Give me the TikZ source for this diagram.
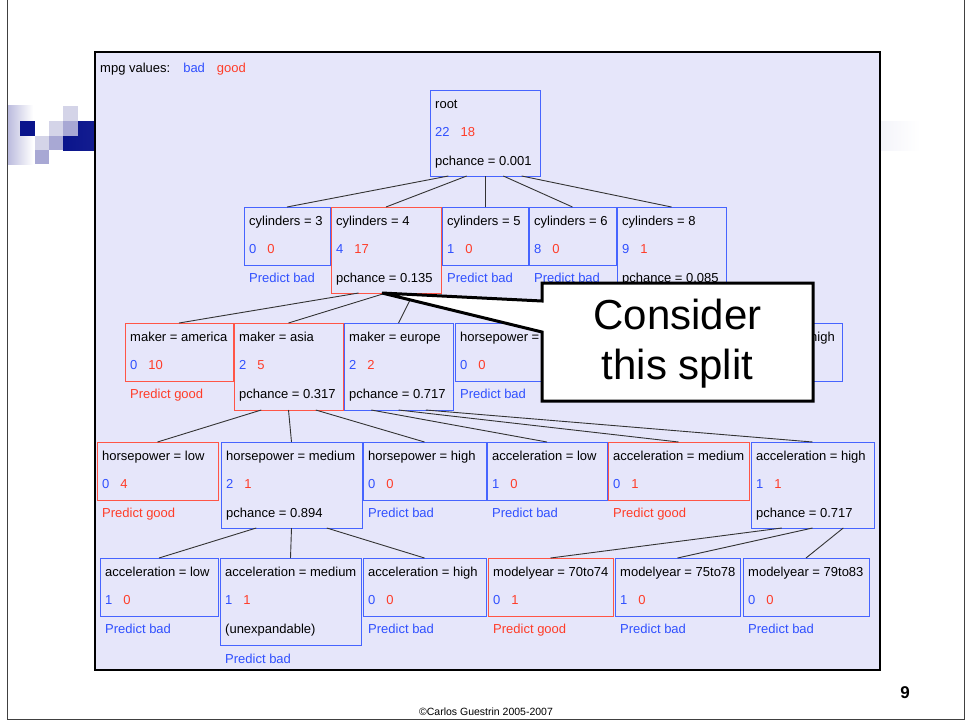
\documentclass[tikz,border=0pt]{standalone}
\usepackage{fontspec}
\setmainfont{Liberation Sans}
\usetikzlibrary{calc}
\definecolor{tblue}{RGB}{48,80,255}
\definecolor{tred}{RGB}{255,60,40}
\definecolor{bblue}{RGB}{70,100,255}
\definecolor{bred}{RGB}{255,85,70}
\definecolor{panelbg}{RGB}{230,230,250}
\definecolor{navy}{RGB}{10,20,140}
\definecolor{sqlight}{RGB}{212,212,232}
\definecolor{sqmed}{RGB}{168,168,212}
\newcommand{\fsz}{\fontsize{13}{15}\selectfont}
% name, x1, y1, x2, y2, border colour, title, n1, n2
\newcommand{\treenode}[9]{%
  \node[tbox, draw=#6, minimum width={#4-#2}, minimum height={#5-#3}] (#1) at (#2,#3) {};
  \node[txt] (#1-title) at ($(#1.north west)+(5,18)$) {#7};
  \node[txt] (#1-count) at ($(#1.north west)+(5,46)$) {\textcolor{tblue}{#8}\hspace{11pt}\textcolor{tred}{#9}};
}
% name, colour, text
\newcommand{\thirdline}[3]{%
  \node[txt, text=#2] (#1-third) at ($(#1.north west)+(5,75)$) {#3};
}
% parent, child, fraction
\newcommand{\treeedge}[3]{%
  \draw[link] ($(#1.south west)!#3!(#1.south east)$) -- (#2.north);
}
\begin{document}
\begin{tikzpicture}[x=1pt,y=-1pt,
  tbox/.style={draw, line width=1pt, inner sep=0pt, outer sep=0pt, anchor=north west},
  txt/.style={font=\fsz, inner sep=0pt, anchor=base west},
  link/.style={draw=black!80, line width=0.9pt}]
\useasboundingbox (0,0) rectangle (966,721);
\fill[white] (0,0) rectangle (966,721);
% slide decoration
\shade[left color=sqmed!80, right color=white] (7,105) rectangle (33,164);
\shade[left color=navy, right color=white] (63,121) rectangle (920,150);
\fill[navy] (20,121) rectangle (35,136);
\fill[sqlight] (35,136) rectangle (49,150);
\fill[sqmed] (35,150) rectangle (49,164);
\fill[sqlight] (49,121) rectangle (63,136);
\fill[sqmed] (49,136) rectangle (63,150);
\fill[sqlight] (63,106) rectangle (78,121);
\fill[sqmed] (63,121) rectangle (78,136);
% slide border
\draw[black!75, line width=0.8pt] (7,0) -- (7,719) -- (964,719) -- (964,0);
% panel
\draw[fill=panelbg, draw=black, line width=1.2pt] (95,52) rectangle (880,670);
\node[txt] (legend) at (100,72) {mpg values:\hspace{13pt}\textcolor{tblue}{bad}\hspace{12pt}\textcolor{tred}{good}};

% level 1
\treenode{root}{430}{90}{540}{176}{bblue}{root}{22}{18}
\thirdline{root}{black}{pchance = 0.001}
% level 2
\treenode{cyl3}{244}{207}{330}{265}{bblue}{cylinders = 3}{0}{0}
\thirdline{cyl3}{tblue}{Predict bad}
\treenode{cyl4}{331}{207}{441}{293}{bred}{cylinders = 4}{4}{17}
\thirdline{cyl4}{black}{pchance = 0.135}
\treenode{cyl5}{442}{207}{528}{265}{bblue}{cylinders = 5}{1}{0}
\thirdline{cyl5}{tblue}{Predict bad}
\treenode{cyl6}{529}{207}{616}{265}{bblue}{cylinders = 6}{8}{0}
\thirdline{cyl6}{tblue}{Predict bad}
\treenode{cyl8}{617}{207}{726}{293}{bblue}{cylinders = 8}{9}{1}
\thirdline{cyl8}{black}{pchance = 0.085}
% level 3
\treenode{america}{125}{323}{233}{381}{bred}{maker = america}{0}{10}
\thirdline{america}{tred}{Predict good}
\treenode{asia}{234}{323}{343}{410}{bred}{maker = asia}{2}{5}
\thirdline{asia}{black}{pchance = 0.317}
\treenode{europe}{344}{323}{453}{410}{bblue}{maker = europe}{2}{2}
\thirdline{europe}{black}{pchance = 0.717}
\treenode{hplowA}{455}{323}{575}{381}{bblue}{horsepower = low}{0}{0}
\thirdline{hplowA}{tblue}{Predict bad}
\node[tbox, draw=bblue, minimum width=121, minimum height=58] (hphighA) at (721,323) {};
\node[txt, anchor=base east] (hphighA-title) at (835,341) {high};
% level 4
\treenode{hplow}{97}{442}{218}{500}{bred}{horsepower = low}{0}{4}
\thirdline{hplow}{tred}{Predict good}
\treenode{hpmed}{221}{442}{362}{528}{bblue}{horsepower = medium}{2}{1}
\thirdline{hpmed}{black}{pchance = 0.894}
\treenode{hphigh}{363}{442}{486}{500}{bblue}{horsepower = high}{0}{0}
\thirdline{hphigh}{tblue}{Predict bad}
\treenode{acclow}{487}{442}{607}{500}{bblue}{acceleration = low}{1}{0}
\thirdline{acclow}{tblue}{Predict bad}
\treenode{accmed}{608}{442}{749}{500}{bred}{acceleration = medium}{0}{1}
\thirdline{accmed}{tred}{Predict good}
\treenode{acchigh}{751}{442}{874}{528}{bblue}{acceleration = high}{1}{1}
\thirdline{acchigh}{black}{pchance = 0.717}
% level 5
\treenode{acclowB}{100}{558}{218}{616}{bblue}{acceleration = low}{1}{0}
\thirdline{acclowB}{tblue}{Predict bad}
\treenode{accmedB}{220}{558}{361}{645}{bblue}{acceleration = medium}{1}{1}
\thirdline{accmedB}{black}{(unexpandable)}
\node[txt, text=tblue] (accmedB-pred) at ($(accmedB.north west)+(5,105)$) {Predict bad};
\treenode{acchighB}{363}{558}{486}{616}{bblue}{acceleration = high}{0}{0}
\thirdline{acchighB}{tblue}{Predict bad}
\treenode{myA}{488}{558}{613}{616}{bred}{modelyear = 70to74}{0}{1}
\thirdline{myA}{tred}{Predict good}
\treenode{myB}{615}{558}{740}{616}{bblue}{modelyear = 75to78}{1}{0}
\thirdline{myB}{tblue}{Predict bad}
\treenode{myC}{743}{558}{869}{616}{bblue}{modelyear = 79to83}{0}{0}
\thirdline{myC}{tblue}{Predict bad}

% edges
\treeedge{root}{cyl3}{1/6}
\treeedge{root}{cyl4}{2/6}
\treeedge{root}{cyl5}{3/6}
\treeedge{root}{cyl6}{4/6}
\treeedge{root}{cyl8}{5/6}
\treeedge{cyl4}{america}{1/4}
\treeedge{cyl4}{asia}{2/4}
\treeedge{cyl4}{europe}{3/4}
\treeedge{cyl8}{hplowA}{1/4}
\treeedge{cyl8}{hphighA}{3/4}
\treeedge{asia}{hplow}{1/4}
\treeedge{asia}{hpmed}{2/4}
\treeedge{asia}{hphigh}{3/4}
\treeedge{europe}{acclow}{1/4}
\treeedge{europe}{accmed}{2/4}
\treeedge{europe}{acchigh}{3/4}
\treeedge{hpmed}{acclowB}{1/4}
\treeedge{hpmed}{accmedB}{2/4}
\treeedge{hpmed}{acchighB}{3/4}
\treeedge{acchigh}{myA}{1/4}
\treeedge{acchigh}{myB}{2/4}
\treeedge{acchigh}{myC}{3/4}

% callout
\coordinate (tip) at (382,293);
\draw[fill=white, draw=black, line width=3pt, line join=miter]
  (542,283) -- (813,283) -- (813,401) -- (542,401) -- (542,332) -- (tip) -- (542,301) -- cycle;
\node[font=\fontsize{42}{50}\selectfont, inner sep=0pt, anchor=base] (callA) at (677.5,329) {Consider};
\node[font=\fontsize{42}{50}\selectfont, inner sep=0pt, anchor=base] (callB) at (677.5,379) {this split};

% footer
\node[font=\fontsize{10.5}{12}\selectfont, inner sep=0pt, anchor=base] (copy) at (486,715) {©Carlos Guestrin 2005-2007};
\node[font=\fontsize{17}{20}\selectfont\bfseries, inner sep=0pt, anchor=base] (pagenum) at (905,698) {9};
\end{tikzpicture}
\end{document}
